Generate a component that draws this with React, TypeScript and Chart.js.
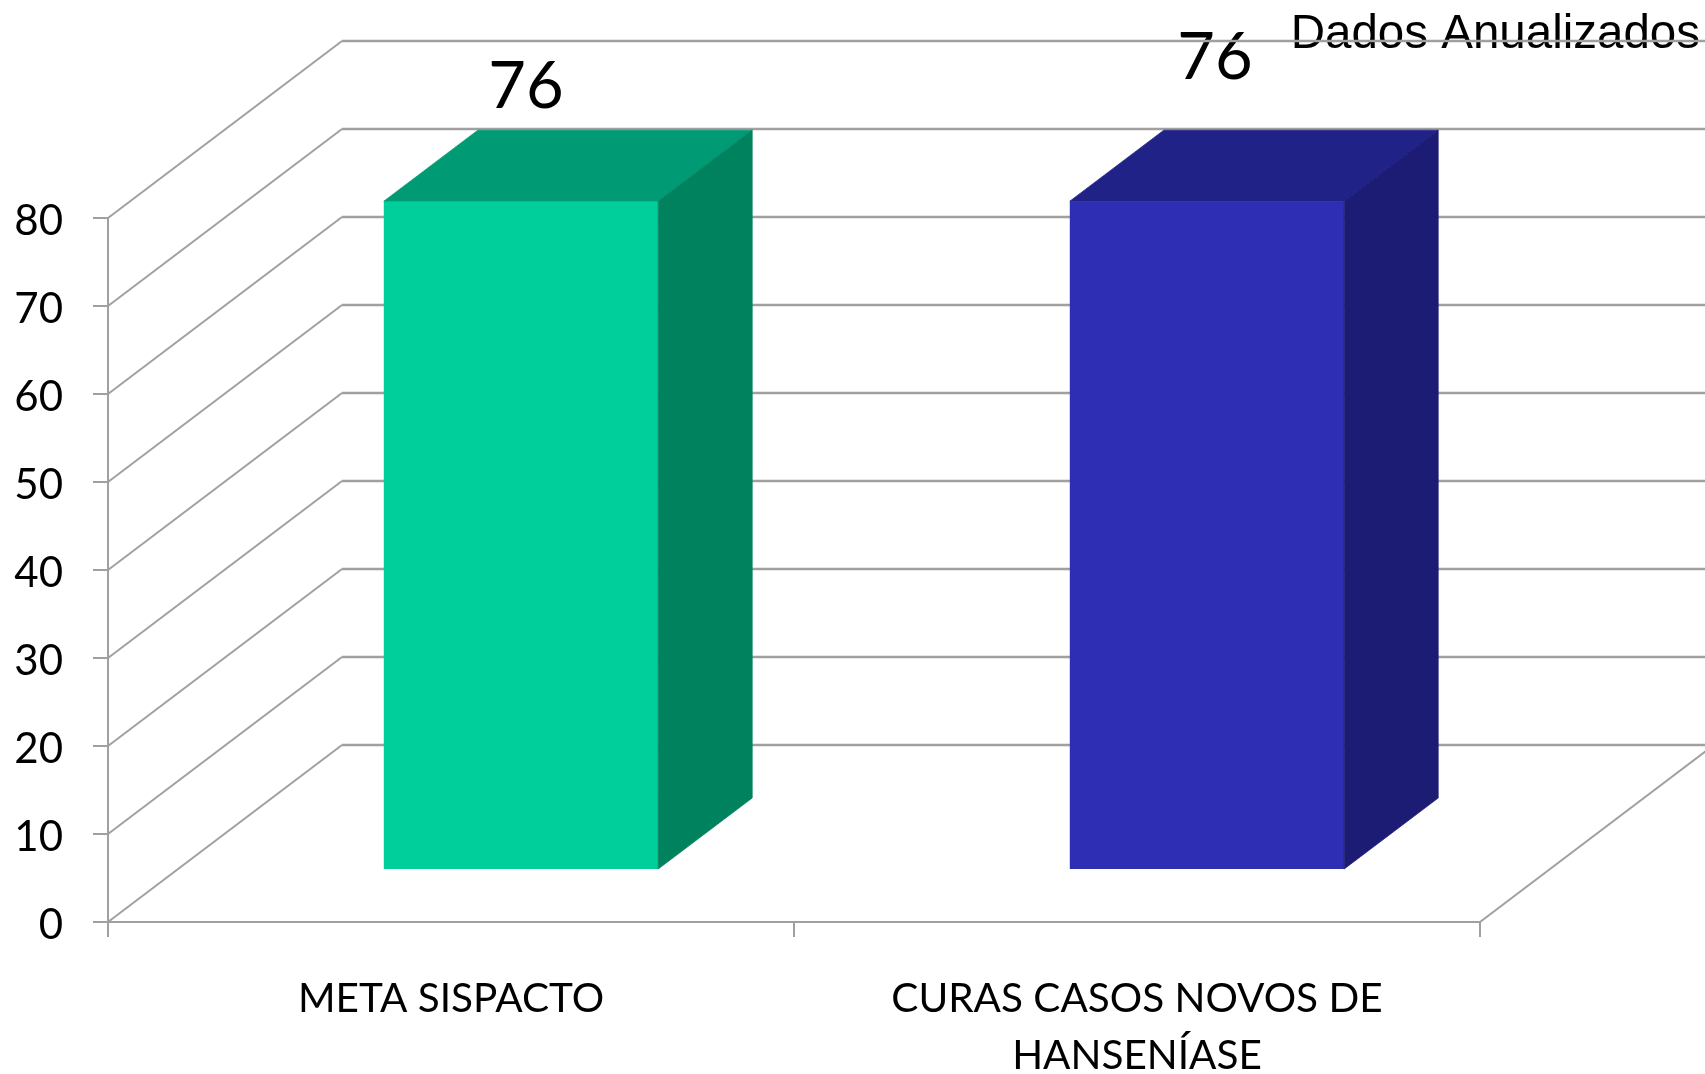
import React, { useEffect, useRef } from "react";
import { Chart, registerables } from "chart.js";

Chart.register(...registerables);

const categories: (string | string[])[] = ["META SISPACTO", ["CURAS CASOS NOVOS DE", "HANSENÍASE"]];
const seriesValues = [76, 76];
const yTicks = [0, 10, 20, 30, 40, 50, 60, 70, 80];
const frontColors = ["#00CE9B", "#2E2EB4"];
const topColors = ["#009B75", "#202288"];
const sideColors = ["#00825F", "#1C1C75"];
const annotation = "Dados Anualizados";
const labelShiftX = [75, 78];
const labelShiftY = [-166, -195];

const GRID = "#A0A0A0";
const WALL_DX = 234;
const WALL_DY = 177;
const BAR_DX = 70;
const BAR_DY = -52;
const DEPTH_DX = 94;
const DEPTH_DY = 71;

const scene = {
  id: "scene",
  beforeDatasetsDraw(chart: any) {
    const { ctx, scales, chartArea, width } = chart;
    const bars = chart.getDatasetMeta(0).data;
    ctx.save();
    ctx.fillStyle = "#000";
    ctx.textAlign = "center";
    ctx.textBaseline = "middle";
    ctx.font = "65px Lato";
    bars.forEach((b: any, i: number) => {
      ctx.fillText(String(seriesValues[i]), b.x + labelShiftX[i], b.y + labelShiftY[i]);
    });
    ctx.textAlign = "right";
    ctx.textBaseline = "alphabetic";
    ctx.font = "47.5px 'Liberation Sans'";
    ctx.fillText(annotation, 1700, 48);

    ctx.strokeStyle = GRID;
    yTicks.forEach((v) => {
      const y = scales.y.getPixelForValue(v);
      ctx.lineWidth = 2;
      ctx.beginPath();
      ctx.moveTo(chartArea.left, y);
      ctx.lineTo(chartArea.left + WALL_DX, y - WALL_DY);
      ctx.stroke();
      ctx.lineWidth = 2.5;
      ctx.beginPath();
      ctx.moveTo(chartArea.left + WALL_DX, y - WALL_DY);
      ctx.lineTo(width, y - WALL_DY);
      ctx.stroke();
    });
    const y0 = scales.y.getPixelForValue(0);
    ctx.lineWidth = 2;
    ctx.beginPath();
    ctx.moveTo(chartArea.right, y0);
    ctx.lineTo(chartArea.right + WALL_DX, y0 - WALL_DY);
    ctx.stroke();
    ctx.restore();

    ctx.save();
    ctx.translate(BAR_DX, BAR_DY);
  },
  afterDatasetsDraw(chart: any) {
    const { ctx } = chart;
    ctx.lineWidth = 0.75;
    chart.getDatasetMeta(0).data.forEach((b: any, i: number) => {
      const x0 = b.x - b.width / 2;
      const x1 = b.x + b.width / 2;
      ctx.fillStyle = topColors[i];
      ctx.strokeStyle = topColors[i];
      ctx.beginPath();
      ctx.moveTo(x0, b.y);
      ctx.lineTo(x1, b.y);
      ctx.lineTo(x1 + DEPTH_DX, b.y - DEPTH_DY);
      ctx.lineTo(x0 + DEPTH_DX, b.y - DEPTH_DY);
      ctx.closePath();
      ctx.fill();
      ctx.stroke();
      ctx.fillStyle = sideColors[i];
      ctx.strokeStyle = sideColors[i];
      ctx.beginPath();
      ctx.moveTo(x1, b.y);
      ctx.lineTo(x1 + DEPTH_DX, b.y - DEPTH_DY);
      ctx.lineTo(x1 + DEPTH_DX, b.base - DEPTH_DY);
      ctx.lineTo(x1, b.base);
      ctx.closePath();
      ctx.fill();
      ctx.stroke();
    });
    ctx.restore();
  },
};

export default function App() {
  const ref = useRef<HTMLCanvasElement>(null);
  useEffect(() => {
    document.body.style.margin = "0";
    const chart = new Chart(ref.current!, {
      type: "bar",
      data: {
        labels: categories as any,
        datasets: [
          {
            data: seriesValues,
            backgroundColor: frontColors,
            borderWidth: 0,
            categoryPercentage: 1,
            barPercentage: 0.4,
            clip: false as any,
          },
        ],
      },
      options: {
        animation: false,
        responsive: false,
        layout: { padding: { top: 218, right: 225, bottom: 0, left: 0 } },
        plugins: { legend: { display: false }, tooltip: { enabled: false } },
        scales: {
          x: {
            afterFit: (s: any) => {
              s.height = 152;
            },
            border: { color: GRID, width: 2 },
            grid: { drawOnChartArea: false, drawTicks: true, tickLength: 15, color: GRID, lineWidth: 2 },
            ticks: {
              color: "#000",
              padding: 34,
              maxRotation: 0,
              autoSkip: false,
              font: { family: "Lato", size: 40.5, lineHeight: 1.4 },
            },
          },
          y: {
            min: 0,
            max: 80,
            afterFit: (s: any) => {
              s.width = 108;
            },
            border: { color: GRID, width: 2 },
            grid: { drawOnChartArea: false, drawTicks: true, tickLength: 15, color: GRID, lineWidth: 2 },
            ticks: {
              stepSize: 10,
              color: "#000",
              padding: 30,
              labelOffset: 3,
              font: { family: "Lato", size: 42 },
            },
          },
        },
      },
      plugins: [scene],
    });
    return () => chart.destroy();
  }, []);
  return (
    <div style={{ position: "fixed", left: 0, top: 0, width: 1705, height: 1074, background: "#fff" }}>
      <canvas ref={ref} width={1705} height={1074} style={{ display: "block" }} />
    </div>
  );
}
